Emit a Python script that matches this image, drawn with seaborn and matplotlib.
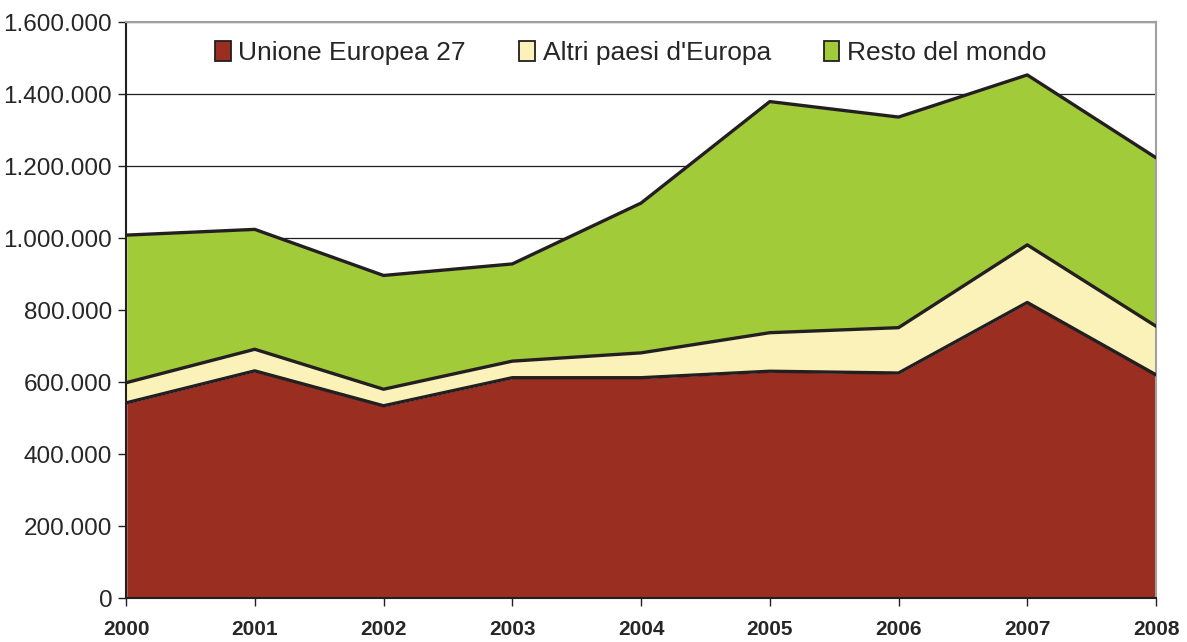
import numpy as np
import pandas as pd
import seaborn as sns
from matplotlib import pyplot as plt
from matplotlib.patches import Patch
from matplotlib.ticker import FuncFormatter, MultipleLocator

years = [2000, 2001, 2002, 2003, 2004, 2005, 2006, 2007, 2008]
ue27 = [542000, 631000, 534000, 612000, 612000, 630000, 625000, 821000, 620000]
altri_europa = [56000, 60000, 46000, 46000, 69000, 107000, 126000, 160000, 135000]
resto_mondo = [410000, 333000, 316000, 270000, 416000, 642000, 585000, 472000, 468000]

labels = ["Unione Europea 27", "Altri paesi d'Europa", "Resto del mondo"]
colors = ["#992e21", "#fbf2b9", "#a2cb3a"]
edge = "#231f20"

sns.set_style("white")
plt.rcParams['font.family'] = ['Liberation Sans', 'DejaVu Sans']

df = pd.DataFrame({"anno": years, labels[0]: ue27, labels[1]: altri_europa, labels[2]: resto_mondo})
cum = df[labels].cumsum(axis=1)

fig = plt.figure(figsize=(11.87, 6.42), dpi=100)
ax = fig.add_axes([0.1062, 0.0685, 0.8677, 0.8972])

ax.yaxis.grid(True, color="#231f20", linewidth=0.9, zorder=0)
ax.set_axisbelow(True)

ax.stackplot(df["anno"], df[labels[0]], df[labels[1]], df[labels[2]],
             colors=colors, zorder=2)
for lab in labels:
    sns.lineplot(x=df["anno"], y=cum[lab], ax=ax, color=edge, linewidth=2.4, zorder=3)

ax.set_xlim(2000, 2008)
ax.set_ylim(0, 1600000)
ax.yaxis.set_major_locator(MultipleLocator(200000))
ax.yaxis.set_major_formatter(FuncFormatter(lambda v, p: f"{int(v):,}".replace(",", ".")))
ax.set_xticks(years)
ax.set_xticklabels([str(y) for y in years], fontweight="bold", fontsize=15)
ax.tick_params(axis="y", labelsize=17.5, length=6, width=1, color="#231f20", left=True, pad=4)
ax.tick_params(axis="x", length=6, width=1, color="#231f20", bottom=True, pad=10)
ax.set_xlabel("")
ax.set_ylabel("")

for side in ["left", "bottom"]:
    ax.spines[side].set_color("#231f20")
    ax.spines[side].set_linewidth(1.5)
for side in ["top", "right"]:
    ax.spines[side].set_color("#a0a0a0")
    ax.spines[side].set_linewidth(1.5)

handles = [Patch(facecolor=c, edgecolor=edge, linewidth=1.3) for c in colors]
ax.legend(handles, labels, loc="center", bbox_to_anchor=(0.49, 0.946), ncol=3,
          frameon=False, fontsize=19, handlelength=0.6, handleheight=0.8,
          handletextpad=0.3, columnspacing=2.0)

fig.savefig("out.png", dpi=100)
